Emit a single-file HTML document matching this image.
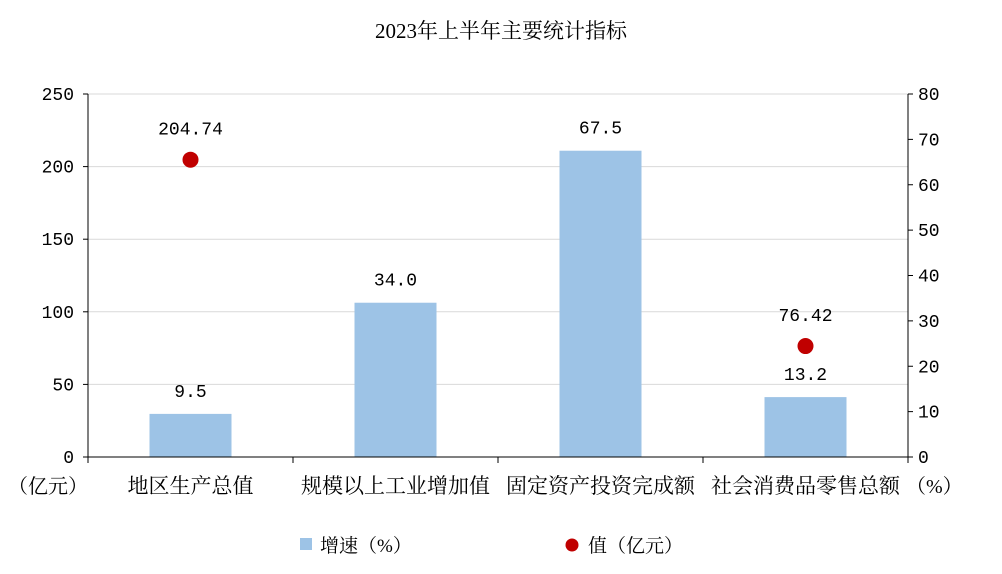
<!DOCTYPE html>
<html><head><meta charset="utf-8"><style>
body{margin:0;background:#fff;}
svg text{font-family:"Liberation Serif","Noto Serif CJK SC",serif;fill:#000;}
svg text.num{font-family:"Liberation Mono","Noto Serif CJK SC",monospace;}
</style></head><body>
<svg id="chart" width="1002" height="569" xmlns="http://www.w3.org/2000/svg">
<text x="501" y="38" font-size="21" text-anchor="middle">2023年上半年主要统计指标</text>
<g id="grid"></g><g id="marks"></g><g id="axes"></g>
<g>
<rect x="300" y="538" width="12" height="12" fill="#9DC3E6"/>
<text x="320" y="552" font-size="19">增速（%）</text>
<circle cx="572" cy="545" r="6.5" fill="#C00000"/>
<text x="588" y="552" font-size="19">值（亿元）</text>
</g>
</svg>
<script>
const categories=["地区生产总值","规模以上工业增加值","固定资产投资完成额","社会消费品零售总额"];
const growth=[9.5,34.0,67.5,13.2];
const growthLabels=["9.5","34.0","67.5","13.2"];
const values=[204.74,null,null,76.42];
const valueLabels=["204.74","","","76.42"];
const leftTicks=[0,50,100,150,200,250];
const rightTicks=[0,10,20,30,40,50,60,70,80];
const X0=88,X1=908,Y0=457,Y1=94;
const yL=v=>Y0-(v/250)*(Y0-Y1);
const yR=v=>Y0-(v/80)*(Y0-Y1);
const band=(X1-X0)/categories.length;
const xC=i=>X0+band*(i+0.5);
const NS="http://www.w3.org/2000/svg";
function mk(p,t,a){const e=document.createElementNS(NS,t);for(const k in a)e.setAttribute(k,a[k]);p.appendChild(e);return e;}
const grid=document.getElementById('grid'),marks=document.getElementById('marks'),axes=document.getElementById('axes');
leftTicks.forEach(t=>{if(t>0){const g=mk(grid,'line',{x1:X0,x2:X1,y1:yL(t),y2:yL(t),stroke:'#d9d9d9','stroke-width':1});

}
const l=mk(axes,'line',{x1:X0-5,x2:X0,y1:yL(t),y2:yL(t),stroke:'#000'});


const tx=mk(axes,'text',{x:X0-14,y:yL(t)+6,'font-size':18,'text-anchor':'end','class':'num'});tx.textContent=t;

});
rightTicks.forEach(t=>{const l=mk(axes,'line',{x1:X1,x2:X1+5,y1:yR(t),y2:yR(t),stroke:'#000'});


const tx=mk(axes,'text',{x:X1+10,y:yR(t)+6,'font-size':18,'class':'num'});tx.textContent=t;

});
let a=mk(axes,'line',{x1:X0,x2:X0,y1:Y1,y2:Y0,stroke:'#000'});


a=mk(axes,'line',{x1:X1,x2:X1,y1:Y1,y2:Y0,stroke:'#000'});


a=mk(axes,'line',{x1:X0,x2:X1,y1:Y0,y2:Y0,stroke:'#000'});


for(let i=0;i<=categories.length;i++){const l=mk(axes,'line',{x1:X0+band*i,x2:X0+band*i,y1:Y0,y2:Y0+6,stroke:'#000'});

}
categories.forEach((c,i)=>{
const tx=mk(axes,'text',{x:xC(i),y:493,'font-size':21,'text-anchor':'middle'});tx.textContent=c;


const bw=82;const b=mk(marks,'rect',{x:xC(i)-bw/2,y:yR(growth[i]),width:bw,height:Y0-yR(growth[i]),fill:'#9DC3E6'});


const bl=mk(marks,'text',{x:xC(i),y:yR(growth[i])-17,'font-size':18,'text-anchor':'middle','class':'num'});bl.textContent=growthLabels[i];


if(values[i]!=null){const p=mk(marks,'circle',{cx:xC(i),cy:yL(values[i]),r:8,fill:'#C00000'});


const pl=mk(marks,'text',{x:xC(i),y:yL(values[i])-25,'font-size':18,'text-anchor':'middle','class':'num'});pl.textContent=valueLabels[i];

}
});
let u=mk(axes,'text',{x:8,y:493,'font-size':20});u.textContent='（亿元）';


u=mk(axes,'text',{x:906,y:493,'font-size':20});u.textContent='（%）';


</script>
</body></html>
